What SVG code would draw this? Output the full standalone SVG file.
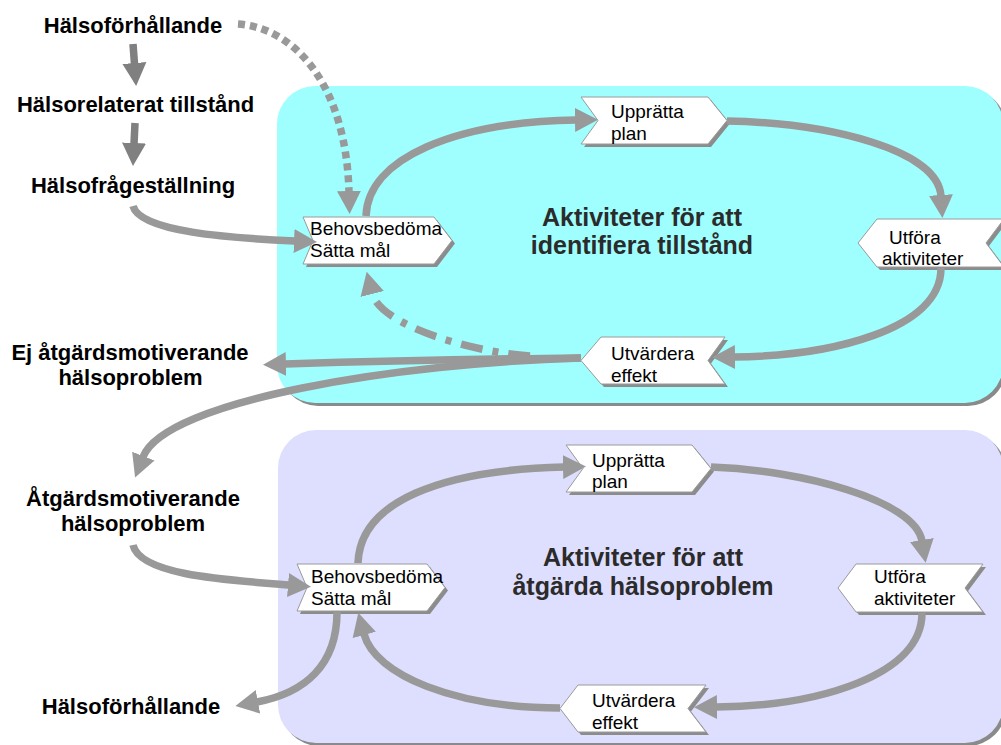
<svg xmlns="http://www.w3.org/2000/svg" width="1001" height="745" viewBox="0 0 1001 745">
<style>
.lbl{font-family:"Liberation Sans",Arial,sans-serif;font-weight:bold;font-size:22px;fill:#000;text-anchor:middle}
.ttl{font-family:"Liberation Sans",Arial,sans-serif;font-weight:bold;font-size:25px;fill:#2b2b2b;text-anchor:middle}
.nt{font-family:"Liberation Sans",Arial,sans-serif;font-size:19px;fill:#000}
.nb{fill:#fff;stroke:#9a9a9a;stroke-width:1}
.ns{fill:#8c8c8c}
.c{fill:none;stroke:#999;stroke-width:7.5}
.cd{fill:none;stroke:#808080;stroke-width:7.5}
</style>
<defs>
<marker id="ah" markerUnits="userSpaceOnUse" markerWidth="24" markerHeight="26" viewBox="0 -13 24 26" refX="1" refY="0" orient="auto">
<path d="M0,-12 L23,0 L0,12 z" fill="#999"/>
</marker>
<marker id="ahd" markerUnits="userSpaceOnUse" markerWidth="24" markerHeight="26" viewBox="0 -13 24 26" refX="1" refY="0" orient="auto">
<path d="M0,-12 L23,0 L0,12 z" fill="#808080"/>
</marker>
</defs>
<rect width="1001" height="745" fill="#fff"/>
<g id="area-identify">
<rect x="280" y="89" width="726" height="317" rx="38" fill="#8a8a8a"/>
<rect x="277" y="86" width="726" height="317" rx="38" fill="#9fffff"/>
<text class="ttl" x="642" y="226">Aktiviteter för att</text>
<text class="ttl" x="642" y="254">identifiera tillstånd</text>
</g>
<g id="area-treat">
<rect x="281" y="433" width="725" height="313" rx="38" fill="#8a8a8a"/>
<rect x="278" y="430" width="725" height="313" rx="38" fill="#dedeff"/>
<text class="ttl" x="643" y="566">Aktiviteter för att</text>
<text class="ttl" x="643" y="595">åtgärda hälsoproblem</text>
</g>
<g id="lbl-halsoforhallande-top"><text class="lbl" x="133" y="33">Hälsoförhållande</text></g>
<g id="lbl-halsorelaterat"><text class="lbl" x="135.5" y="112">Hälsorelaterat tillstånd</text></g>
<g id="lbl-halsofragestallning"><text class="lbl" x="133" y="193">Hälsofrågeställning</text></g>
<g id="lbl-ej-atgard"><text class="lbl" x="130" y="360">Ej åtgärdsmotiverande</text><text class="lbl" x="130.5" y="385">hälsoproblem</text></g>
<g id="lbl-atgard"><text class="lbl" x="133" y="506">Åtgärdsmotiverande</text><text class="lbl" x="133" y="531">hälsoproblem</text></g>
<g id="lbl-halsoforhallande-bottom"><text class="lbl" x="131" y="714">Hälsoförhållande</text></g>

<g id="u-uppratta">
<polygon class="ns" points="584,100 711,100 730,123.5 711,147 584,147 601,123.5"/>
<polygon class="nb" points="581,97 708,97 727,120.5 708,144 581,144 598,120.5"/>
<text class="nt" x="611" y="118">Upprätta</text><text class="nt" x="611" y="140">plan</text>
</g>
<g id="u-behov">
<polygon class="ns" points="306,220 437,220 455,243.5 437,267 306,267 316,243.5"/>
<polygon class="nb" points="303,217 434,217 452,240.5 434,264 303,264 313,240.5"/>
<text class="nt" x="310" y="235">Behovsbedöma</text><text class="nt" x="310" y="257">Sätta mål</text>
</g>
<g id="u-utfora">
<polygon class="ns" points="861,246 880,222 1007,222 989,246 1007,270 880,270"/>
<polygon class="nb" points="858,243 877,219 1004,219 986,243 1004,267 877,267"/>
<text class="nt" x="889" y="244">Utföra</text><text class="nt" x="882" y="265">aktiviteter</text>
</g>
<g id="u-utvardera">
<polygon class="ns" points="584,363.5 604,340 728,340 711,363.5 728,387 604,387"/>
<polygon class="nb" points="581,360.5 601,337 725,337 708,360.5 725,384 601,384"/>
<text class="nt" x="611" y="360">Utvärdera</text><text class="nt" x="611" y="382">effekt</text>
</g>

<g id="l-uppratta">
<polygon class="ns" points="569,448 695,448 714,471.5 695,495 569,495 586,471.5"/>
<polygon class="nb" points="566,445 692,445 711,468.5 692,492 566,492 583,468.5"/>
<text class="nt" x="592" y="467">Upprätta</text><text class="nt" x="592" y="488">plan</text>
</g>
<g id="l-behov">
<polygon class="ns" points="300,567 430,567 448,590.5 430,614 300,614 310,590.5"/>
<polygon class="nb" points="297,564 427,564 445,587.5 427,611 297,611 307,587.5"/>
<text class="nt" x="311" y="583">Behovsbedöma</text><text class="nt" x="311" y="605">Sätta mål</text>
</g>
<g id="l-utfora">
<polygon class="ns" points="841,591 859,567 986,567 968,591 986,615 859,615"/>
<polygon class="nb" points="838,588 856,564 983,564 965,588 983,612 856,612"/>
<text class="nt" x="874" y="583">Utföra</text><text class="nt" x="874" y="605">aktiviteter</text>
</g>
<g id="l-utvardera">
<polygon class="ns" points="563,711.5 581,688 709,688 691,711.5 709,735 581,735"/>
<polygon class="nb" points="560,708.5 578,685 706,685 688,708.5 706,732 578,732"/>
<text class="nt" x="592" y="707">Utvärdera</text><text class="nt" x="592" y="729">effekt</text>
</g>

<g id="connectors">
<path class="cd" d="M133,44 L134.5,64" marker-end="url(#ahd)"/>
<path class="cd" d="M135,123 L134,144" marker-end="url(#ahd)"/>
<path class="c" d="M133,206 C140,232 230,238 295,241" marker-end="url(#ah)"/>
<path class="c" d="M238,24 C295,28 346,85 349,192" stroke-dasharray="7 5" marker-end="url(#ah)"/>
<path class="c" d="M366,216 C368,158 455,122 576,120" marker-end="url(#ah)"/>
<path class="c" d="M727,121 C830,123 938,150 941,196" marker-end="url(#ah)"/>
<path class="c" d="M941,268 C941,330 830,356 734,357" marker-end="url(#ah)"/>
<path class="c" d="M530,356 C470,352 380,325 372,293" stroke-dasharray="22 10 6 10" marker-end="url(#ah)"/>
<path class="c" d="M581,358 C480,359 380,361 285,364" marker-end="url(#ah)"/>
<path class="c" d="M581,358 C400,363 165,400 143,457" marker-end="url(#ah)"/>
<path class="c" d="M358,563 C360,502 440,470 564,467" marker-end="url(#ah)"/>
<path class="c" d="M711,467 C800,470 915,500 922,541" marker-end="url(#ah)"/>
<path class="c" d="M922,613 C922,675 820,706 716,707" marker-end="url(#ah)"/>
<path class="c" d="M560,708 C455,708 375,675 364,634" marker-end="url(#ah)"/>
<path class="c" d="M337,612 C337,665 305,693 257,702" marker-end="url(#ah)"/>
<path class="c" d="M133,545 C140,575 225,580 289,585" marker-end="url(#ah)"/>
</g>
</svg>
